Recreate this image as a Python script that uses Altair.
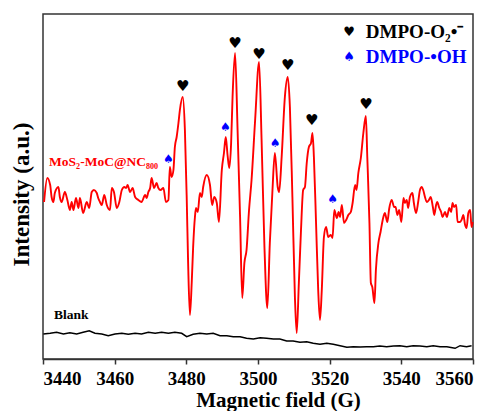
import altair as alt
import pandas as pd

# ---- data (field in G, intensity in arbitrary units) ----
red_field = [3440.3, 3441.2, 3442.0, 3442.4, 3442.9, 3443.3, 3444.3, 3444.7, 3445.2, 3446.1,
             3446.8, 3447.5, 3448.0, 3448.5, 3449.2, 3449.9, 3450.3, 3451.2, 3452.2, 3452.9,
             3453.6, 3454.2, 3455.0, 3455.4, 3455.9, 3456.4, 3457.1, 3457.8, 3458.7, 3459.2,
             3459.8, 3460.6, 3461.3, 3462.0, 3462.7, 3463.2, 3463.6, 3464.3, 3465.0, 3465.7,
             3466.6, 3467.5, 3468.5, 3468.9, 3469.4, 3469.9, 3470.3, 3471.0, 3471.7, 3472.2,
             3472.8, 3473.6, 3474.3, 3475.0, 3475.4, 3475.9, 3476.4, 3476.8, 3477.3, 3477.8,
             3478.2, 3479.0, 3479.6, 3480.1, 3480.5, 3481.0, 3481.5, 3481.9, 3482.4, 3482.7,
             3483.2, 3483.8, 3484.3, 3484.7, 3485.7, 3486.6, 3487.2, 3487.8, 3488.5, 3489.1,
             3489.9, 3490.5, 3491.0, 3491.5, 3492.0, 3492.5, 3492.9, 3493.6, 3494.3, 3495.0,
             3495.6, 3496.2, 3496.8, 3497.5, 3498.2, 3499.2, 3500.3, 3501.0, 3501.8, 3502.6,
             3503.3, 3504.0, 3504.7, 3505.5, 3505.9, 3506.6, 3507.5, 3508.3, 3508.9, 3509.6,
             3510.3, 3510.8, 3511.4, 3512.0, 3512.6, 3513.1, 3513.6, 3514.2, 3514.8, 3515.2,
             3515.6, 3516.2, 3516.8, 3517.3, 3517.8, 3518.4, 3519.0, 3519.6, 3520.3, 3520.8,
             3521.3, 3522.0, 3522.5, 3522.9, 3523.4, 3524.0, 3524.6, 3525.2, 3525.9, 3526.4,
             3527.1, 3527.5, 3528.0, 3528.7, 3529.4, 3530.1, 3530.5, 3531.1, 3531.5, 3531.9,
             3532.5, 3532.9, 3533.6, 3534.2, 3534.8, 3535.4, 3536.1, 3536.6, 3537.3, 3538.0,
             3538.4, 3538.9, 3539.4, 3540.0, 3540.6, 3541.0, 3541.5, 3541.9, 3542.4, 3543.1,
             3543.5, 3544.1, 3544.7, 3545.2, 3545.7, 3546.1, 3546.6, 3547.1, 3547.7, 3548.2,
             3548.8, 3549.2, 3549.7, 3550.0, 3550.6, 3551.1, 3551.5, 3552.2, 3552.7, 3553.4,
             3553.9, 3554.3, 3554.7, 3555.3, 3555.7, 3556.4, 3556.8, 3557.3, 3557.8, 3558.2,
             3558.7, 3559.2, 3559.6, 3559.9]
red_int = [157, 181, 174, 162, 157, 166, 172, 162, 157, 167,
           159, 149, 157, 149, 161, 151, 161, 146, 157, 151,
           167, 169, 166, 161, 157, 154, 164, 154, 149, 171,
           167, 151, 157, 169, 172, 171, 174, 167, 171, 162,
           159, 157, 164, 161, 167, 171, 181, 171, 176, 171,
           169, 171, 157, 159, 192, 182, 189, 212, 222, 236,
           249, 262, 229, 162, 96, 44, 76, 112, 142, 151,
           147, 166, 162, 172, 184, 174, 154, 162, 156, 137,
           189, 206, 222, 204, 191, 216, 262, 306, 229, 142,
           61, 96, 109, 149, 179, 239, 297, 219, 112, 51,
           116, 166, 206, 172, 167, 202, 262, 282, 252, 162,
           62, 26, 76, 129, 169, 172, 196, 212, 216, 226,
           202, 136, 69, 39, 69, 122, 132, 122, 124, 121,
           149, 141, 147, 142, 154, 136, 139, 144, 147, 156,
           174, 169, 186, 201, 226, 243, 202, 136, 76, 72,
           56, 89, 116, 127, 139, 146, 137, 150, 159, 152,
           152, 144, 149, 137, 161, 156, 159, 151, 162, 166,
           156, 146, 157, 169, 172, 169, 162, 157, 159, 162,
           152, 144, 154, 157, 151, 147, 142, 147, 142, 151,
           147, 156, 152, 154, 137, 137, 139, 144, 134, 131,
           146, 149, 132, 137]

blank_field = [3440.1, 3442.0, 3443.8, 3445.7, 3447.5, 3449.4, 3451.2, 3452.9, 3454.5, 3456.4,
               3458.2, 3460.1, 3462.0, 3463.8, 3465.7, 3467.5, 3469.4, 3471.3, 3473.1, 3475.0,
               3476.8, 3478.7, 3480.1, 3481.9, 3483.8, 3485.7, 3487.5, 3489.4, 3491.3, 3493.1,
               3495.0, 3496.8, 3498.7, 3500.6, 3502.4, 3504.3, 3506.1, 3508.0, 3509.8, 3511.7,
               3513.6, 3515.4, 3517.3, 3519.2, 3521.0, 3522.9, 3524.8, 3526.6, 3528.5, 3530.3,
               3532.2, 3534.0, 3535.9, 3537.8, 3539.6, 3541.5, 3543.3, 3545.2, 3547.1, 3548.9,
               3550.8, 3552.7, 3555.0, 3556.4, 3558.2, 3559.6]
blank_int = [25, 25.7, 26.7, 25, 26.3, 25, 26.7, 28.3, 25.7, 25,
             23.3, 25, 25.7, 24.7, 25.7, 25, 26.7, 25.7, 26.7, 25.7,
             26.7, 25.7, 22.3, 24.7, 25.7, 25, 25.7, 23.3, 23.3, 22.3,
             22.3, 20.7, 20, 21.3, 20.7, 20, 20, 18, 18, 16.7,
             17.3, 15.7, 14.7, 15.7, 14.7, 13.3, 11.7, 12.3, 12, 12.3,
             12.3, 13, 12.3, 13, 13.3, 12.3, 13.3, 13, 12.3, 13.3,
             12.3, 12.3, 10.7, 13.3, 12.3, 13.3]

heart_field = [3479.0, 3493.6, 3500.3, 3508.3, 3515.0, 3530.1]
heart_int = [273, 316, 305, 294, 239, 255]
spade_field = [3475.0, 3490.9, 3504.8, 3520.8]
spade_int = [200, 232, 216, 160]

legend_symbols = ["\u2665", "\u2660"]
legend_labels = ["DMPO-O\u2082\u2022\u207b", "DMPO-\u2022OH"]
legend_colors = ["#000000", "#0000ff"]
legend_sym_field = [3525.4, 3525.4]
legend_txt_field = [3530.1, 3530.1]
legend_int = [327, 302]

sample_labels = ["MoS\u2082-MoC@NC\u2088\u2080\u2080", "Blank"]
sample_colors = ["#ff0000", "#000000"]
sample_field = [3441.7, 3443.1]
sample_int = [197, 44]

SERIF = "Liberation Serif"

xscale = alt.Scale(domain=[3440, 3560], nice=False, zero=False)
yscale = alt.Scale(domain=[0, 345], nice=False, zero=False)

xaxis = alt.Axis(
    title="Magnetic field (G)",
    values=list(range(3440, 3561, 10)),
    format="d",
    labelExpr="datum.value % 20 === 0 ? datum.label : ''",
    labelOverlap=False,
    tickSize={"condition": {"test": "datum.value % 20 !== 0", "value": 3}, "value": 5},
    labelPadding=5,
    labelFontSize=19,
    titleBaseline="alphabetic",
    titleY=47,
    titleX=235,
    titleFontSize=21,
    grid=False,
)
yaxis = alt.Axis(title="Intensity (a.u.)", labels=False, ticks=False, grid=False, domain=False,
                 titlePadding=10, titleFontSize=23, titleY=180)

red_df = pd.DataFrame({"field": red_field, "intensity": red_int})
blank_df = pd.DataFrame({"field": blank_field, "intensity": blank_int})

red = alt.Chart(red_df).mark_line(color="#ff0000", strokeWidth=1.9, interpolate="monotone").encode(
    x=alt.X("field:Q", scale=xscale, axis=xaxis),
    y=alt.Y("intensity:Q", scale=yscale, axis=yaxis),
)
blank = alt.Chart(blank_df).mark_line(color="#000000", strokeWidth=1.5).encode(
    x=alt.X("field:Q", scale=xscale),
    y=alt.Y("intensity:Q", scale=yscale),
)

hearts = alt.Chart(pd.DataFrame({"field": heart_field, "intensity": heart_int, "s": ["\u2665"] * len(heart_field)})
                   ).mark_text(font="DejaVu Sans", fontSize=15, color="#000000", baseline="middle").encode(
    x="field:Q", y="intensity:Q", text="s:N")
spades = alt.Chart(pd.DataFrame({"field": spade_field, "intensity": spade_int, "s": ["\u2660"] * len(spade_field)})
                   ).mark_text(font="DejaVu Sans", fontSize=12, color="#0000ff", baseline="middle").encode(
    x="field:Q", y="intensity:Q", text="s:N")

leg_df = pd.DataFrame({"sym": legend_symbols, "label": legend_labels, "color": legend_colors,
                       "fs": legend_sym_field, "ft": legend_txt_field, "intensity": legend_int})
leg_sym = alt.Chart(leg_df).mark_text(font="DejaVu Sans", fontSize=13, baseline="middle").encode(
    x="fs:Q", y="intensity:Q", text="sym:N", color=alt.Color("color:N", scale=None))
leg_txt = alt.Chart(leg_df).mark_text(font=SERIF, fontSize=19, fontWeight="bold", align="left",
                                      baseline="middle").encode(
    x="ft:Q", y="intensity:Q", text="label:N", color=alt.Color("color:N", scale=None))

samp_df = pd.DataFrame({"label": sample_labels, "color": sample_colors, "field": sample_field,
                        "intensity": sample_int})
samp = alt.Chart(samp_df).mark_text(font=SERIF, fontSize=13.5, fontWeight="bold", align="left",
                                    baseline="middle").encode(
    x="field:Q", y="intensity:Q", text="label:N", color=alt.Color("color:N", scale=None))

chart = alt.layer(blank, red, hearts, spades, leg_sym, leg_txt, samp).properties(
    width=430, height=345,
    autosize=alt.AutoSizeParams(type="none"),
    padding={"left": 35, "top": 6, "right": 14, "bottom": 52},
).configure_view(
    stroke="#333333", strokeWidth=1.5
).configure_axis(
    labelFont=SERIF, labelFontWeight="bold", labelColor="#000000",
    titleFont=SERIF, titleFontWeight="bold", titleColor="#000000",
    domainColor="#333333", domainWidth=1.5, tickColor="#333333", tickWidth=1.5,
)

chart.save("out.html", embed_options={"renderer": "svg", "actions": False})
